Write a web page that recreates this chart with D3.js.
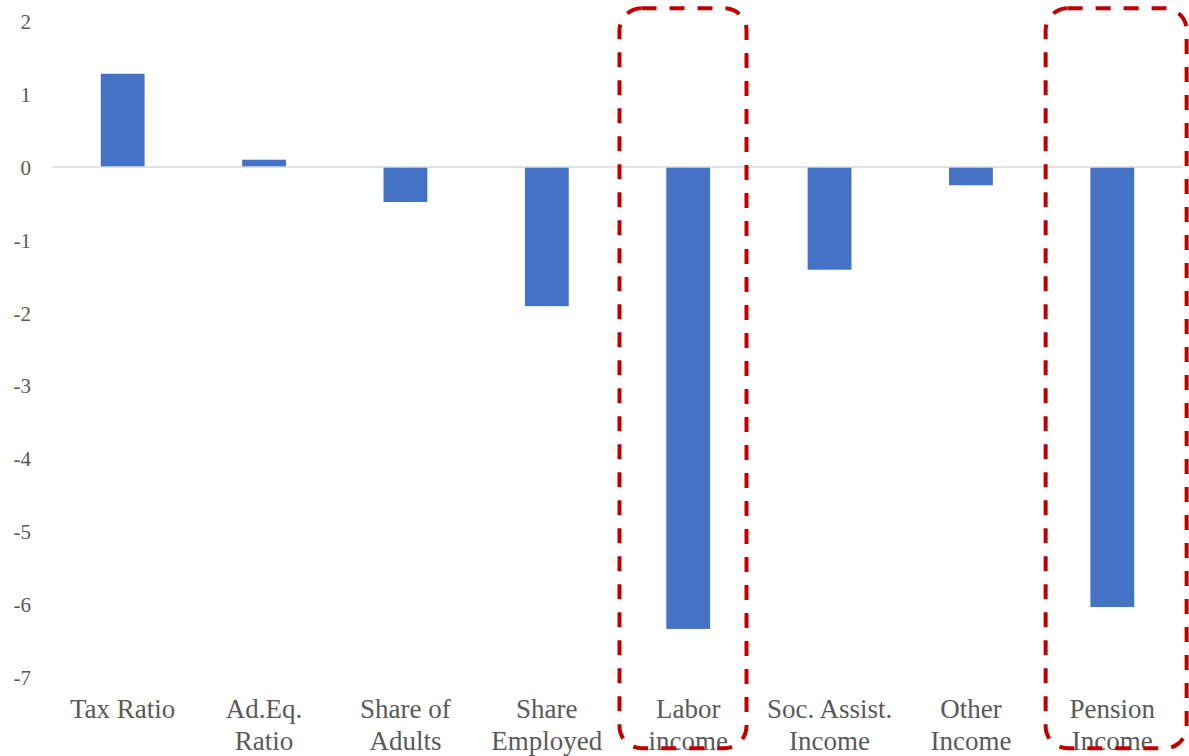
<!DOCTYPE html>
<html>
<head>
<meta charset="utf-8">
<script src="https://cdn.jsdelivr.net/npm/d3@7"></script>
<style>
  html, body { margin: 0; padding: 0; background: #ffffff; }
  svg { display: block; }
</style>
</head>
<body>
<svg id="chart" width="1189" height="756"></svg>
<script>
// Categories (label lines) and decomposition values
const categories = [
  ["Tax Ratio"],
  ["Ad.Eq.", "Ratio"],
  ["Share of", "Adults"],
  ["Share", "Employed"],
  ["Labor", "income"],
  ["Soc. Assist.", "Income"],
  ["Other", "Income"],
  ["Pension", "Income"]
];
const values = [1.28, 0.10, -0.48, -1.91, -6.34, -1.41, -0.25, -6.04];
const yTicks = [2, 1, 0, -1, -2, -3, -4, -5, -6, -7];
const highlighted = ["Labor", "Pension"];

const svg = d3.select("#chart");
const textColor = "#595959";
const fontFamily = "Liberation Serif, Times New Roman, serif";

const keys = categories.map(c => c.join(" "));
const x = d3.scaleBand().domain(keys).range([52, 1183]).padding(0);
const y = d3.scaleLinear().domain([-7, 2]).range([677, 21.3]);
const barW = x.bandwidth() * 0.31;

// Y axis labels (no axis line)
const yAxis = d3.axisLeft(y).tickValues(yTicks).tickSize(0).tickPadding(0)
  .tickFormat(d3.format("d"));
const yg = svg.append("g").attr("transform", "translate(31,0)").call(yAxis)
  .attr("font-family", fontFamily).attr("font-size", 21);
yg.select(".domain").remove();
yg.selectAll("text")
  .attr("fill", textColor)
  .attr("font-family", fontFamily)
  .attr("font-size", 21)
  .attr("dy", "0.35em")
  .text(d => d < 0 ? "-" + Math.abs(d) : d);

// Bars
svg.append("g").selectAll("rect")
  .data(values)
  .join("rect")
  .attr("x", (d, i) => x(keys[i]) + (x.bandwidth() - barW) / 2)
  .attr("y", d => y(Math.max(0, d)))
  .attr("width", barW)
  .attr("height", d => Math.abs(y(d) - y(0)))
  .attr("fill", "#4472c4");

// Zero baseline
svg.append("line")
  .attr("x1", x.range()[0]).attr("x2", x.range()[1])
  .attr("y1", y(0)).attr("y2", y(0))
  .attr("stroke", "#d9d9d9").attr("stroke-width", 1.5);

// Category labels
const lab = svg.append("g").selectAll("text")
  .data(categories)
  .join("text")
  .attr("x", (d, i) => x(keys[i]) + x.bandwidth() / 2)
  .attr("y", 718)
  .attr("text-anchor", "middle")
  .attr("fill", textColor)
  .attr("font-family", fontFamily)
  .attr("font-size", 27);
lab.selectAll("tspan")
  .data(d => d)
  .join("tspan")
  .attr("x", function () { return d3.select(this.parentNode).attr("x"); })
  .attr("dy", (d, i) => i === 0 ? 0 : 32)
  .text(d => d);

// Dashed highlight boxes around selected categories
const boxes = keys.filter(k => highlighted.some(h => k.startsWith(h)));
svg.append("g").selectAll("rect")
  .data(boxes)
  .join("rect")
  .attr("x", k => x(k) + (k.startsWith("Labor") ? 2 : 4))
  .attr("y", y(2) - 13)
  .attr("width", k => k.startsWith("Labor") ? 127 : 141)
  .attr("height", 740)
  .attr("rx", 22).attr("ry", 22)
  .attr("fill", "none")
  .attr("stroke", "#c00000")
  .attr("stroke-width", 4)
  .attr("stroke-dasharray", "15 13");
</script>
</body>
</html>
